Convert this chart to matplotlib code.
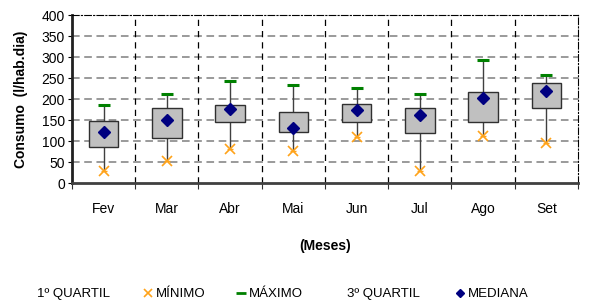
import numpy as np
import matplotlib.pyplot as plt
from matplotlib.lines import Line2D

plt.rcParams['font.family'] = ['Liberation Sans', 'DejaVu Sans']

meses = ['Fev', 'Mar', 'Abr', 'Mai', 'Jun', 'Jul', 'Ago', 'Set']
q1 = [86, 107, 145, 121, 145, 119, 145, 178]
q3 = [147, 178, 185, 168, 189, 178, 217, 238]
minimo = [29, 53, 82, 77, 110, 29, 112, 95]
maximo = [185, 211, 242, 234, 226, 213, 293, 257]
mediana = [121, 150, 176, 130, 174, 163, 202, 220]

x = np.arange(len(meses))
q1 = np.array(q1)
q3 = np.array(q3)

fig = plt.figure(figsize=(5.91, 3.02), dpi=100)
ax = fig.add_axes([0.1218, 0.394, 0.8562, 0.556])

# grid
for yv in range(50, 400, 50):
    ax.axhline(yv, color='#7f7f7f', lw=1.1, ls=(0, (5, 3)), zorder=0)
for xv in np.arange(0.5, len(meses) - 0.5, 1):
    ax.axvline(xv, color='black', lw=0.9, ls=(0, (5, 4)), zorder=0)

# high-low lines
ax.vlines(x, minimo, maximo, color='#404040', lw=1.0, zorder=1)
# boxes
ax.bar(x, q3 - q1, bottom=q1, width=0.47, color='#c0c0c0',
       edgecolor='#303030', lw=1.0, zorder=2)
ax.plot(x, minimo, ls='none', marker='x', ms=6.5, mew=1.2, color='#ffa31a', zorder=3)
ax.plot(x, minimo, ls='none', marker='_', ms=5, mew=1.0, color='#ffa31a', zorder=3)
ax.plot(x, maximo, ls='none', marker='_', ms=9, mew=2.2, color='#008000', zorder=3)
ax.plot(x, mediana, ls='none', marker='D', ms=6, color='#000080', zorder=4)

ax.set_xlim(-0.5, len(meses) - 0.5)
ax.set_ylim(0, 400)
ax.set_yticks(range(0, 401, 50))
ax.set_xticks(np.arange(-0.5, len(meses), 1))
ax.set_xticklabels([])
ax.set_xticks(x, minor=True)
ax.set_xticklabels(meses, minor=True)
ax.tick_params(axis='x', which='minor', length=0, pad=14, labelsize=10)
ax.tick_params(axis='x', which='major', length=4, direction='out', color='#303030')
ax.tick_params(axis='y', length=3, direction='out', labelsize=10, pad=2)

ax.spines['top'].set_linestyle((0, (6, 2, 1, 2)))
ax.spines['right'].set_linestyle((0, (6, 2, 1, 2)))
ax.spines['top'].set_linewidth(0.8)
ax.spines['right'].set_linewidth(0.8)
ax.spines['bottom'].set_linestyle((0, (1, 1)))
ax.spines['bottom'].set_linewidth(2.0)
ax.spines['bottom'].set_color('#404040')
ax.spines['left'].set_linestyle((0, (1, 1)))
ax.spines['left'].set_linewidth(2.0)
ax.spines['left'].set_color('#202020')

ax.set_ylabel('Consumo  (l/hab.dia)', fontsize=10, fontweight='bold', labelpad=10)
ax.set_xlabel('(Meses)', fontsize=10, fontweight='bold', labelpad=16)

# legend entries placed individually (x in pixels of left edge)
leg_font = {'family': ['Liberation Sans', 'DejaVu Sans'], 'size': 9.5}
entries = [
    ('1º QUARTIL', Line2D([], [], ls='none'), 37, False),
    ('MÍNIMO', Line2D([], [], ls='none', marker='x', ms=5.5, mew=1.2, color='#ffa31a'), 143, True),
    ('MÁXIMO', Line2D([], [], ls='none', marker='_', ms=7, mew=2, color='#008000'), 236, True),
    ('3º QUARTIL', Line2D([], [], ls='none'), 347, False),
    ('MEDIANA', Line2D([], [], ls='none', marker='D', ms=4.5, color='#000080'), 455, True),
]
for lab, h, px, has_mk in entries:
    fig.legend([h], [lab], loc='center left', bbox_to_anchor=(px / 591, 1 - 294 / 302),
               frameon=False, prop=leg_font, borderpad=0, borderaxespad=0,
               handlelength=0.8 if has_mk else 0, handletextpad=0.2 if has_mk else 0)

fig.savefig('out.png', dpi=100)
